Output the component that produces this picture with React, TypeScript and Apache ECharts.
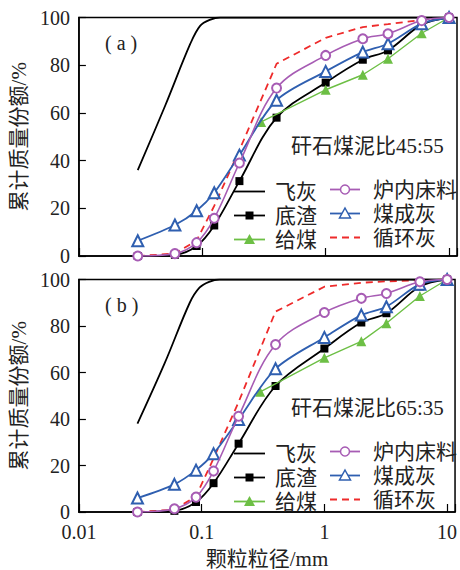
import React, { useEffect, useRef } from "react";
import * as echarts from "echarts";

// ---------------- data ----------------
const sieveSizes = [0.03, 0.06, 0.09, 0.125, 0.2, 0.4, 1, 2, 3.2, 6, 10];
const feedSizes = [0.3, 1, 2, 3.2, 6, 10];
const flySizes = [0.03, 0.05, 0.08, 0.096, 0.115, 0.14, 0.2, 1, 10];

// panel (a) 矸石煤泥比45:55
const flyAshA = [36, 63, 89, 96.5, 99, 100, 100, 100, 100];
const bottomAshA = [0, 0.5, 4.2, 12.8, 31.4, 58, 72.7, 82.3, 86.2, 97, 100];
const feedCoalA = [56.2, 69.7, 76, 82.7, 93.4, 100];
const bedMaterialA = [0, 1, 5.6, 15.8, 39, 70.4, 84.1, 91.1, 93.2, 98.7, 100];
const coalAshA = [6.4, 13, 19, 26.5, 42.3, 65.3, 77.4, 85.5, 89, 97.4, 100];
const circAshA = [0, 1, 6.5, 21, 44.4, 80.6, 91.5, 96, 97.2, 99, 100];

// panel (b) 矸石煤泥比65:35
const flyAshB = [38, 64, 90, 96.5, 99, 100, 100, 100, 100];
const bottomAshB = [0, 0.5, 4.3, 12.4, 29.4, 54.2, 70.3, 81.5, 85.5, 97, 100];
const feedCoalB = [51.7, 66.3, 73.4, 81.2, 92.9, 100];
const bedMaterialB = [0, 1.4, 6.4, 17.6, 41.2, 72, 85.8, 91.9, 94, 99, 100];
const coalAshB = [6, 11.9, 18, 25.1, 39.8, 61.6, 75.1, 84.7, 88.3, 98, 100];
const circAshB = [0, 1, 6.8, 23, 47.3, 86.2, 96.9, 98.6, 99.2, 99.7, 100];

const yTicks = [0, 20, 40, 60, 80, 100];
const xTickLabels = [0.01, 0.1, 1, 10];
const panelLabels = ["( a )", "( b )"];
const ratioLabels = ["矸石煤泥比45:55", "矸石煤泥比65:35"];
const seriesNames = ["飞灰", "底渣", "给煤", "炉内床料", "煤成灰", "循环灰"];

// ---------------- styles ----------------
const C_BLACK = "#000000";
const C_GREEN = "#6dbf45";
const C_PURPLE = "#a75cb4";
const C_BLUE = "#2f5fb0";
const C_RED = "#ee2b2b";
const FONT = "'Liberation Serif', 'Noto Sans CJK SC', serif";
const TEXT_COLOR = "#222";

const GRID_LEFT = 73;
const GRID_W = 384;
const PANELS = [
  { top: 17.5, height: 238.5 },
  { top: 279.5, height: 234.5 },
];

const pairs = (xs: number[], ys: number[]) => xs.map((x, i) => [x, ys[i]]);

function legendGraphics(panelTop: number) {
  const els: any[] = [];
  const items = [
    { name: seriesNames[0], color: C_BLACK, sym: "none", col: 0, row: 0 },
    { name: seriesNames[1], color: C_BLACK, sym: "square", col: 0, row: 1 },
    { name: seriesNames[2], color: C_GREEN, sym: "triangle", col: 0, row: 2 },
    { name: seriesNames[3], color: C_PURPLE, sym: "circle", col: 1, row: 0 },
    { name: seriesNames[4], color: C_BLUE, sym: "emptyTriangle", col: 1, row: 1 },
    { name: seriesNames[5], color: C_RED, sym: "dashed", col: 1, row: 2 },
  ];
  const cols = [
    { x1: 234, x2: 265, tx: 275, y0: 174 },
    { x1: 330, x2: 360, tx: 373, y0: 172 },
  ];
  items.forEach((it) => {
    const c = cols[it.col];
    const cy = panelTop + c.y0 + it.row * 24;
    const cx = (c.x1 + c.x2) / 2;
    els.push({
      type: "line",
      z: 100,
      shape: { x1: c.x1, y1: cy, x2: c.x2, y2: cy },
      style: {
        stroke: it.color,
        lineWidth: 1.8,
        lineDash: it.sym === "dashed" ? [7, 5] : null,
      },
    });
    if (it.sym === "square") {
      els.push({
        type: "rect",
        z: 101,
        shape: { x: cx - 4, y: cy - 4, width: 8, height: 8 },
        style: { fill: it.color },
      });
    } else if (it.sym === "circle") {
      els.push({
        type: "circle",
        z: 101,
        shape: { cx, cy, r: 4.5 },
        style: { fill: "#fff", stroke: it.color, lineWidth: 1.5 },
      });
    } else if (it.sym === "triangle" || it.sym === "emptyTriangle") {
      const empty = it.sym === "emptyTriangle";
      els.push({
        type: "polygon",
        z: 101,
        shape: {
          points: [
            [cx, cy - 5.5],
            [cx + 5.5, cy + 4.5],
            [cx - 5.5, cy + 4.5],
          ],
        },
        style: empty
          ? { fill: "#fff", stroke: it.color, lineWidth: 1.5 }
          : { fill: it.color },
      });
    }
    els.push({
      type: "text",
      z: 101,
      x: c.tx,
      y: cy,
      style: {
        text: it.name,
        fill: TEXT_COLOR,
        fontSize: 21,
        fontFamily: FONT,
        verticalAlign: "middle",
        align: "left",
      },
    });
  });
  return els;
}

function decadeLabel(v: number) {
  const t = xTickLabels.find((d) => Math.abs(d - v) / d < 1e-6);
  return t === undefined ? "" : String(t);
}

export default function App() {
  const ref = useRef<HTMLDivElement>(null);
  useEffect(() => {
    if (!ref.current) return;
    const chart = echarts.init(ref.current, null, { renderer: "svg" });

    const grids = PANELS.map((p) => ({
      left: GRID_LEFT,
      top: p.top,
      width: GRID_W,
      height: p.height,
      show: true,
      borderColor: "#000",
      borderWidth: 1.5,
      backgroundColor: "transparent",
    }));

    const xAxes = PANELS.map((_, i) => ({
      type: "log",
      logBase: 10,
      gridIndex: i,
      min: 0.01,
      max: 11.6,
      axisLine: { show: true, lineStyle: { color: "#000", width: 1.5 } },
      axisTick: { show: true, inside: true, length: 8, lineStyle: { color: "#000", width: 1.2 } },
      minorTick: { show: false },
      splitLine: { show: false },
      axisLabel: {
        show: i === 1,
        margin: 12,
        color: TEXT_COLOR,
        fontSize: 20,
        lineHeight: 16,
        fontFamily: FONT,
        showMaxLabel: true,
        showMinLabel: true,
        hideOverlap: false,
        formatter: (v: number) => decadeLabel(v),
      },
      name: i === 1 ? "颗粒粒径/mm" : "",
      nameLocation: "middle",
      nameGap: 36,
      nameTextStyle: { color: TEXT_COLOR, fontSize: 21, fontFamily: FONT },
    }));

    const yAxes = PANELS.map((_, i) => ({
      type: "value",
      gridIndex: i,
      min: yTicks[0],
      max: yTicks[yTicks.length - 1],
      interval: 20,
      axisLine: { show: true, lineStyle: { color: "#000", width: 1.5 } },
      axisTick: { show: true, inside: true, length: 7, lineStyle: { color: "#000", width: 1.2 } },
      splitLine: { show: false },
      axisLabel: { margin: 9, color: TEXT_COLOR, fontSize: 20, lineHeight: 16, fontFamily: FONT },
      name: "累计质量份额/%",
      nameLocation: "middle",
      nameRotate: 90,
      nameGap: 38,
      nameTextStyle: { color: TEXT_COLOR, fontSize: 21, fontFamily: FONT },
    }));

    const panelData = [
      { fly: flyAshA, bottom: bottomAshA, feed: feedCoalA, bed: bedMaterialA, coal: coalAshA, circ: circAshA },
      { fly: flyAshB, bottom: bottomAshB, feed: feedCoalB, bed: bedMaterialB, coal: coalAshB, circ: circAshB },
    ];

    const series: any[] = [];
    panelData.forEach((d, i) => {
      const common = { xAxisIndex: i, yAxisIndex: i, animation: false };
      series.push({
        ...common,
        name: seriesNames[5],
        type: "line",
        data: pairs(sieveSizes, d.circ),
        symbol: "none",
        lineStyle: { color: C_RED, width: 1.8, type: [7, 5] },
        z: 2,
      });
      series.push({
        ...common,
        name: seriesNames[0],
        type: "line",
        data: pairs(flySizes, d.fly),
        symbol: "none",
        smooth: 0.35,
        lineStyle: { color: C_BLACK, width: 1.8 },
        z: 3,
      });
      series.push({
        ...common,
        name: seriesNames[1],
        type: "line",
        data: pairs(sieveSizes, d.bottom),
        symbol: "rect",
        symbolSize: 8,
        smooth: 0.35,
        itemStyle: { color: C_BLACK },
        lineStyle: { color: C_BLACK, width: 1.8 },
        z: 3,
      });
      series.push({
        ...common,
        name: seriesNames[2],
        type: "line",
        data: pairs(feedSizes, d.feed),
        symbol: "triangle",
        symbolSize: 10,
        itemStyle: { color: C_GREEN },
        lineStyle: { color: C_GREEN, width: 1.4 },
        z: 4,
      });
      series.push({
        ...common,
        name: seriesNames[4],
        type: "line",
        data: pairs(sieveSizes, d.coal),
        symbol: "emptyTriangle",
        symbolSize: 11,
        smooth: 0.3,
        itemStyle: { color: C_BLUE, borderWidth: 1.5 },
        lineStyle: { color: C_BLUE, width: 1.8 },
        z: 5,
      });
      series.push({
        ...common,
        name: seriesNames[3],
        type: "line",
        data: pairs(sieveSizes, d.bed),
        symbol: "emptyCircle",
        symbolSize: 9,
        smooth: 0.35,
        itemStyle: { color: C_PURPLE, borderWidth: 1.5 },
        lineStyle: { color: C_PURPLE, width: 1.6 },
        z: 6,
      });
    });

    const graphic: any[] = [];
    PANELS.forEach((p, i) => {
      graphic.push({
        type: "text",
        z: 100,
        x: 105,
        y: p.top + 25.5,
        style: {
          text: panelLabels[i],
          fill: TEXT_COLOR,
          fontSize: 20,
          fontFamily: FONT,
          verticalAlign: "middle",
          align: "left",
        },
      });
      graphic.push({
        type: "text",
        z: 100,
        x: 291,
        y: p.top + 128.5,
        style: {
          text: ratioLabels[i],
          fill: TEXT_COLOR,
          fontSize: 21,
          fontFamily: FONT,
          verticalAlign: "middle",
          align: "left",
        },
      });
      graphic.push(...legendGraphics(p.top));
    });

    chart.setOption({
      animation: false,
      backgroundColor: "#fff",
      grid: grids,
      xAxis: xAxes,
      yAxis: yAxes,
      series,
      graphic,
    });
    return () => chart.dispose();
  }, []);

  return (
    <div
      ref={ref}
      style={{ position: "absolute", left: 0, top: 0, width: 460, height: 570 }}
    />
  );
}
